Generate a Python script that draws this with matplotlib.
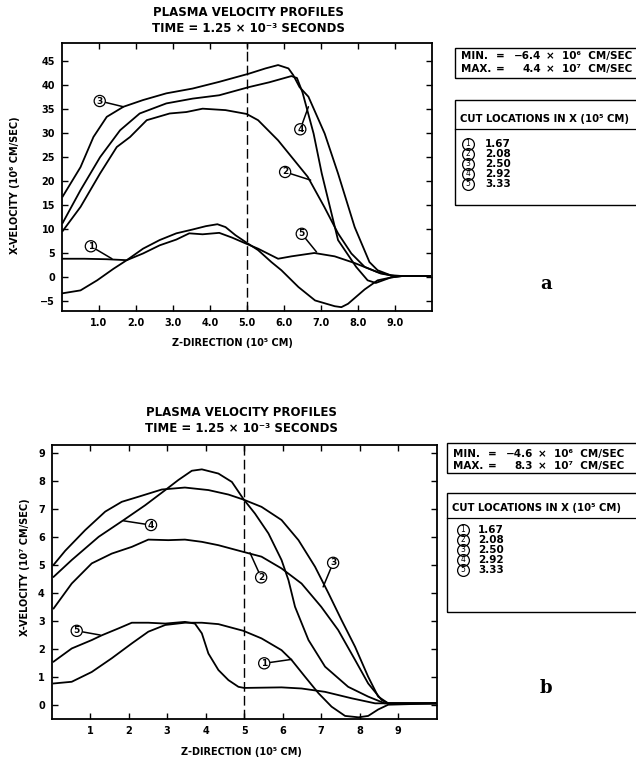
import matplotlib
matplotlib.use('Agg')
import matplotlib.pyplot as plt
from matplotlib.patches import Rectangle
from matplotlib.lines import Line2D

plt.rcParams['font.family'] = ['DejaVu Sans']
plt.rcParams['font.weight'] = 'bold'

# ---- Panel a: velocity in 10^6 cm/sec ----
a_z1 = [0.02, 0.6, 1.2, 1.75, 2.19, 2.64, 3.09, 3.53, 3.89, 4.2, 4.42, 4.69, 4.96, 5.3, 5.66, 5.93, 6.39, 6.84, 7.37, 7.55, 7.73, 8.18, 8.53, 8.9, 9.2, 9.95]
a_v1 = [3.8, 3.8, 3.7, 3.5, 5.9, 7.7, 9.1, 9.9, 10.6, 11.0, 10.4, 8.7, 7.3, 5.6, 3.1, 1.4, -2.1, -4.9, -6.1, -6.3, -5.6, -2.6, -0.7, -0.1, 0.2, 0.2]
a_z2 = [0.02, 0.5, 1.03, 1.48, 1.84, 2.29, 2.91, 3.36, 3.8, 4.42, 4.99, 5.3, 5.84, 6.64, 7.09, 7.46, 7.82, 8.18, 8.62, 9.0, 9.95]
a_v2 = [9.6, 14.6, 21.6, 27.1, 29.2, 32.7, 34.1, 34.4, 35.1, 34.8, 34.0, 32.7, 28.5, 20.9, 14.6, 9.1, 4.9, 2.1, 0.7, 0.2, 0.2]
a_z3 = [0.02, 0.5, 0.85, 1.21, 1.66, 2.19, 2.82, 3.53, 4.25, 5.05, 5.5, 5.84, 6.12, 6.25, 6.42, 6.66, 7.1, 7.46, 7.91, 8.31, 8.53, 8.9, 9.2, 9.95]
a_v3 = [16.8, 22.9, 29.2, 33.4, 35.5, 36.9, 38.3, 39.3, 40.7, 42.4, 43.5, 44.2, 43.5, 42.1, 39.6, 37.6, 29.9, 21.6, 10.4, 3.1, 1.4, 0.3, 0.2, 0.2]
a_z4 = [0.02, 0.5, 1.03, 1.57, 2.1, 2.82, 3.53, 4.25, 5.05, 5.6, 6.2, 6.35, 6.5, 6.8, 7.02, 7.46, 7.95, 8.26, 8.48, 8.89, 9.2, 9.95]
a_v4 = [11.3, 18.1, 25.0, 30.6, 34.1, 36.2, 37.2, 37.9, 39.6, 40.6, 41.9, 41.5, 38.5, 29.9, 21.6, 7.7, 2.1, -0.7, -1.25, -0.1, 0.2, 0.2]
a_z5 = [0.02, 0.5, 0.95, 1.39, 1.75, 2.19, 2.64, 3.09, 3.44, 3.8, 4.25, 4.6, 4.96, 5.3, 5.84, 6.2, 6.82, 7.37, 7.91, 8.53, 8.9, 9.2, 9.95]
a_v5 = [-3.4, -2.8, -0.7, 1.7, 3.5, 4.9, 6.6, 7.8, 9.1, 8.9, 9.2, 8.2, 7.0, 5.9, 3.8, 4.3, 5.0, 4.3, 2.9, 1.0, 0.3, 0.2, 0.2]

# ---- Panel b: velocity in 10^7 cm/sec ----
b_z1 = [0.05, 0.52, 1.04, 1.56, 2.08, 2.51, 2.95, 3.46, 3.9, 4.33, 4.98, 5.45, 5.97, 6.23, 6.58, 6.93, 7.27, 7.62, 7.97, 8.22, 8.48, 8.74, 10.0]
b_v1 = [0.76, 0.82, 1.17, 1.66, 2.19, 2.61, 2.85, 2.93, 2.93, 2.88, 2.64, 2.37, 1.95, 1.6, 1.0, 0.41, -0.07, -0.4, -0.45, -0.4, -0.17, 0.0, 0.05]
b_z2 = [0.05, 0.52, 1.04, 1.56, 2.08, 2.51, 3.03, 3.46, 3.9, 4.33, 4.98, 5.45, 5.97, 6.49, 7.0, 7.44, 7.88, 8.22, 8.57, 8.74, 10.0]
b_v2 = [3.44, 4.33, 5.05, 5.4, 5.64, 5.9, 5.88, 5.9, 5.82, 5.7, 5.46, 5.29, 4.87, 4.33, 3.5, 2.67, 1.6, 0.76, 0.17, 0.05, 0.05]
b_z3 = [0.05, 0.35, 0.87, 1.39, 1.82, 2.25, 2.86, 3.46, 4.07, 4.59, 4.98, 5.45, 5.97, 6.41, 6.84, 7.19, 7.53, 7.88, 8.22, 8.48, 8.74, 10.0]
b_v3 = [5.0, 5.5, 6.24, 6.9, 7.25, 7.43, 7.69, 7.76, 7.67, 7.51, 7.33, 7.07, 6.6, 5.88, 4.93, 3.98, 3.02, 2.07, 1.0, 0.29, 0.05, 0.05]
b_z4 = [0.05, 0.52, 1.22, 1.87, 2.43, 2.95, 3.29, 3.64, 3.9, 4.33, 4.68, 4.98, 5.28, 5.63, 5.97, 6.15, 6.32, 6.67, 7.1, 7.7, 8.22, 8.65, 10.0]
b_v4 = [4.57, 5.17, 6.0, 6.6, 7.13, 7.67, 8.03, 8.36, 8.41, 8.26, 7.96, 7.35, 6.83, 6.12, 5.17, 4.45, 3.5, 2.31, 1.36, 0.64, 0.29, 0.05, 0.05]
b_z5 = [0.05, 0.52, 1.04, 1.3, 1.74, 2.08, 2.51, 2.95, 3.46, 3.72, 3.9, 4.07, 4.33, 4.59, 4.85, 5.0, 5.97, 6.49, 7.1, 7.79, 8.4, 8.74, 10.0]
b_v5 = [1.54, 2.01, 2.31, 2.48, 2.73, 2.93, 2.93, 2.9, 2.96, 2.9, 2.55, 1.83, 1.24, 0.88, 0.64, 0.6, 0.62, 0.58, 0.46, 0.23, 0.05, 0.05, 0.05]

cut_labels = ['1.67', '2.08', '2.50', '2.92', '3.33']
cut_nums = ['1', '2', '3', '4', '5']

# curve tags: (number, circle position, pointer end) in data coords
a_tags = [('1', (0.78, 6.4), (1.35, 3.8)),
          ('2', (6.03, 21.9), (6.72, 20.2)),
          ('3', (1.02, 36.7), (1.66, 35.5)),
          ('4', (6.44, 30.8), (6.66, 35.5)),
          ('5', (6.48, 9.0), (6.88, 5.2))]
b_tags = [('1', (5.52, 1.48), (6.23, 1.62)),
          ('2', (5.44, 4.55), (5.15, 5.43)),
          ('3', (7.31, 5.07), (7.05, 4.21)),
          ('4', (2.58, 6.42), (1.87, 6.57)),
          ('5', (0.65, 2.64), (1.26, 2.49))]

W, H = 636, 762
fig = plt.figure(figsize=(W / 100, H / 100), dpi=100)


def fx(x):
    return x / W


def fy(y):
    return 1 - y / H


def draw_panel(l, t, r, b, curves, tags, ylim, yticks, xlabels):
    ax = fig.add_axes([fx(l), fy(b), (r - l) / W, (b - t) / H])
    for z, v in curves:
        ax.plot(z, v, color='black', lw=1.3)
    ax.axvline(5.0, color='black', lw=1.0, ls=(0, (7, 3)))
    for num, pos, end in tags:
        ax.annotate(num, xy=end, xytext=pos, fontsize=6.5, ha='center', va='center',
                    bbox=dict(boxstyle='circle,pad=0.12', fc='white', ec='black', lw=0.9),
                    arrowprops=dict(arrowstyle='-', color='black', lw=1.1, shrinkA=0, shrinkB=0))
    ax.set_xlim(0, 10)
    ax.set_ylim(*ylim)
    ax.set_xticks(range(1, 10))
    ax.set_xticklabels(xlabels)
    ax.set_yticks(yticks)
    ax.tick_params(direction='in', top=True, right=True, length=4, width=1.0,
                   labelsize=7, pad=5)
    for s in ax.spines.values():
        s.set_linewidth(1.3)
    return ax


def info_boxes(bx, top, bot1, minv, maxv, r1, r2, box2_top, box2_bot, head_y, sep_y, rows_y, circ_x, val_x):
    fig.patches.append(Rectangle((fx(bx), fy(bot1)), 0.4, (bot1 - top) / H,
                                 transform=fig.transFigure, fill=False, ec='black', lw=1.0))
    for name, val, y in [('MIN.', minv, r1), ('MAX.', maxv, r2)]:
        fig.text(fx(bx + 6), fy(y), name, fontsize=7.5, va='center')
        fig.text(fx(bx + 45), fy(y), '=', fontsize=7.5, va='center', ha='center')
        fig.text(fx(bx + 86), fy(y), val[0], fontsize=7.5, va='center', ha='right')
        fig.text(fx(bx + 91), fy(y), val[1], fontsize=7.5, va='center')
    fig.patches.append(Rectangle((fx(bx), fy(box2_bot)), 0.4, (box2_bot - box2_top) / H,
                                 transform=fig.transFigure, fill=False, ec='black', lw=1.0))
    fig.lines.append(Line2D([fx(bx), 1.0], [fy(sep_y)] * 2, transform=fig.transFigure,
                            color='black', lw=0.9))
    fig.text(fx(bx + 5), fy(head_y), 'CUT LOCATIONS IN X (10\u2075 CM)', fontsize=7.3, va='center')
    for n, lab, y in zip(cut_nums, cut_labels, rows_y):
        fig.lines.append(Line2D([fx(circ_x)], [fy(y)], transform=fig.transFigure, marker='o',
                                ms=8.5, mfc='none', mec='black', mew=0.9))
        fig.text(fx(circ_x), fy(y), n, fontsize=5.5, va='center', ha='center', weight='normal')
        fig.text(fx(val_x), fy(y), lab, fontsize=7.5, va='center')


# panel a
draw_panel(62, 43, 432, 311,
           [(a_z1, a_v1), (a_z2, a_v2), (a_z3, a_v3), (a_z4, a_v4), (a_z5, a_v5)],
           a_tags, (-7.1, 48.8), range(-5, 50, 5),
           ['%.1f' % i for i in range(1, 10)])
fig.text(fx(248), fy(13), 'PLASMA VELOCITY PROFILES', fontsize=8.5, ha='center', va='center')
fig.text(fx(248), fy(28), 'TIME = 1.25 \u00d7 10\u207b\u00b3 SECONDS', fontsize=8.5, ha='center', va='center')
fig.text(fx(232), fy(343), 'Z-DIRECTION (10\u2075 CM)', fontsize=7, ha='center', va='center')
fig.text(fx(15), fy(185), 'X-VELOCITY (10\u2076 CM/SEC)', fontsize=7, ha='center', va='center', rotation=90)
info_boxes(455, 48, 78, ('\u22126.4', '\u00d7  10\u2076  CM/SEC'), ('4.4', '\u00d7  10\u2077  CM/SEC'),
           56, 69, 100, 205, 119, 129, [144, 154, 164, 174, 184], 468, 485)
fig.text(fx(546), fy(284), 'a', fontsize=13, ha='center', va='center', family='DejaVu Serif')

# panel b
draw_panel(51.7, 445, 436.7, 719,
           [(b_z1, b_v1), (b_z2, b_v2), (b_z3, b_v3), (b_z4, b_v4), (b_z5, b_v5)],
           b_tags, (-0.51, 9.28), range(0, 10),
           [str(i) for i in range(1, 10)])
fig.text(fx(241), fy(413), 'PLASMA VELOCITY PROFILES', fontsize=8.5, ha='center', va='center')
fig.text(fx(241), fy(429), 'TIME = 1.25 \u00d7 10\u207b\u00b3 SECONDS', fontsize=8.5, ha='center', va='center')
fig.text(fx(241), fy(752), 'Z-DIRECTION (10\u2075 CM)', fontsize=7, ha='center', va='center')
fig.text(fx(25), fy(567), 'X-VELOCITY (10\u2077 CM/SEC)', fontsize=7, ha='center', va='center', rotation=90)
info_boxes(447, 443, 473, ('\u22124.6', '\u00d7  10\u2076  CM/SEC'), ('8.3', '\u00d7  10\u2077  CM/SEC'),
           454, 466, 493, 612, 508, 518, [530, 540, 550, 560, 570], 463, 478)
fig.text(fx(546), fy(688), 'b', fontsize=13, ha='center', va='center', family='DejaVu Serif')

fig.savefig('out.png', dpi=100)
